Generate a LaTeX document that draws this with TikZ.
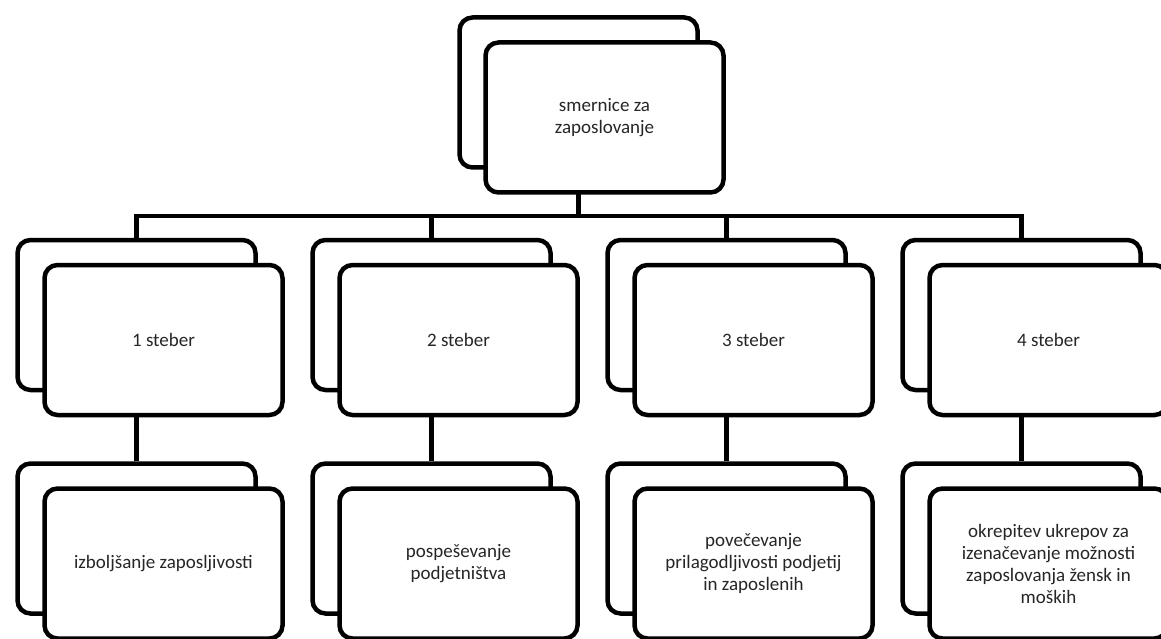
\documentclass[tikz,border=0pt]{standalone}
\usepackage{fontspec}
\setmainfont{Carlito}

\begin{document}
\begin{tikzpicture}[
    x=1pt, y=-1pt, font=\fontsize{19}{22}\selectfont,
    card/.style={
      rectangle,
      rounded corners=13pt,
      draw=black,
      line width=4.5pt,
      fill=white,
      minimum width=238pt,
      minimum height=150pt,
      inner sep=0pt,
      align=center,
      text=black!85
    },
    link/.style={
      draw=black,
      line width=4.5pt
    }
  ]
  \useasboundingbox (0,0) rectangle (1161,639);
  \clip (0,0) rectangle (1161,639);

  % back cards
  \node[card] (topback) at (578.5,92.5) {};
  \node[card] (b1) at (136.5,315) {};
  \node[card] (b2) at (431.5,315) {};
  \node[card] (b3) at (726.5,315) {};
  \node[card] (b4) at (1021.5,315) {};
  \node[card] (c1) at (136.5,538.5) {};
  \node[card] (c2) at (431.5,538.5) {};
  \node[card] (c3) at (726.5,538.5) {};
  \node[card] (c4) at (1021.5,538.5) {};

  % connectors
  \coordinate (bar) at (578.5,216);
  \draw[link] (topback.south) -- (bar);
  \draw[link] (b1.north) |- (bar);
  \draw[link] (b2.north) |- (bar);
  \draw[link] (b3.north) |- (bar);
  \draw[link] (b4.north) |- (bar);
  \draw[link] (b1.south) -- (c1.north);
  \draw[link] (b2.south) -- (c2.north);
  \draw[link] (b3.south) -- (c3.north);
  \draw[link] (b4.south) -- (c4.north);

  % front cards
  \node[card] (top) at (604.5,117.5) {smernice za\\zaposlovanje};
  \node[card] (f1) at (163.5,340) {1 steber};
  \node[card] (f2) at (458.5,340) {2 steber};
  \node[card] (f3) at (753.5,340) {3 steber};
  \node[card] (f4) at (1048.5,340) {4 steber};
  \node[card] (g1) at (163.5,563.5) {izboljšanje zaposljivosti};
  \node[card] (g2) at (458.5,563.5) {pospeševanje\\podjetništva};
  \node[card] (g3) at (753.5,563.5) {povečevanje\\prilagodljivosti podjetij\\in zaposlenih};
  \node[card] (g4) at (1048.5,563.5) {okrepitev ukrepov za\\izenačevanje možnosti\\zaposlovanja žensk in\\moških};
\end{tikzpicture}
\end{document}
